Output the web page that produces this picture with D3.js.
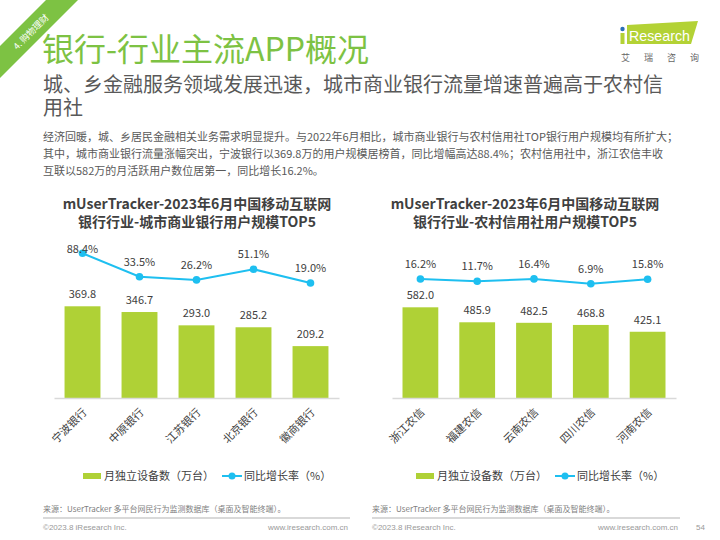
<!DOCTYPE html>
<html><head><meta charset="utf-8">
<script src="https://cdn.jsdelivr.net/npm/d3@7"></script>
<style>
html,body{margin:0;padding:0;background:#fff;}
svg{display:block;font-family:"Microsoft YaHei","Noto Sans CJK SC",sans-serif;}
</style></head>
<body>
<svg id="c" width="720" height="540"></svg>
<script>
// ---- data ----
const leftCategories = ["宁波银行","中原银行","江苏银行","北京银行","徽商银行"];
const leftUsers = [369.8, 346.7, 293.0, 285.2, 209.2];
const leftGrowth = [88.4, 33.5, 26.2, 51.1, 19.0];
const rightCategories = ["浙江农信","福建农信","云南农信","四川农信","河南农信"];
const rightUsers = [582.0, 485.9, 482.5, 468.8, 425.1];
const rightGrowth = [16.2, 11.7, 16.4, 6.9, 15.8];
const legendLabels = ["月独立设备数（万台）", "同比增长率（%）"];
const chartTitles = [
  ["mUserTracker-2023年6月中国移动互联网", "银行行业-城市商业银行用户规模TOP5"],
  ["mUserTracker-2023年6月中国移动互联网", "银行行业-农村信用社用户规模TOP5"]
];
const paragraph = [
  "经济回暖，城、乡居民金融相关业务需求明显提升。与2022年6月相比，城市商业银行与农村信用社TOP银行用户规模均有所扩大；",
  "其中，城市商业银行流量涨幅突出，宁波银行以369.8万的用户规模居榜首，同比增幅高达88.4%；农村信用社中，浙江农信丰收",
  "互联以582万的月活跃用户数位居第一，同比增长16.2%。"
];

const GREEN = "#7dc243", BAR = "#afd136", LINE = "#1ebff0", TXT = "#404040";
const svg = d3.select("#c");

// ---- header ----
svg.append("polygon").attr("points","46,0 78,0 0,78 0,46").attr("fill",GREEN);
svg.append("text").attr("transform","translate(31,32) rotate(-45)")
  .attr("text-anchor","middle").attr("dy","0.35em").attr("font-size",9).attr("fill","#fff").text("4. 购物理财");
svg.append("text").attr("x",42).attr("y",61).attr("font-size",32).attr("fill",GREEN).text("银行-行业主流APP概况");
svg.append("text").attr("x",43).attr("y",92).attr("font-size",20).attr("fill","#595959")
  .text("城、乡金融服务领域发展迅速，城市商业银行流量增速普遍高于农村信");
svg.append("text").attr("x",43).attr("y",115).attr("font-size",20).attr("fill","#595959").text("用社");
paragraph.forEach((t,i)=>{
  svg.append("text").attr("x",43).attr("y",141+i*17).attr("font-size",11).attr("fill","#595959").text(t);
});

// logo
svg.append("polygon").attr("points","627,25 698,21 691,44 627,44").attr("fill","#b3d235");
svg.append("rect").attr("x",620.5).attr("y",33).attr("width",4).attr("height",11).attr("fill","#b3d235");
svg.append("circle").attr("cx",622.5).attr("cy",29).attr("r",2.2).attr("fill","#2a6fb6");
svg.append("text").attr("x",629).attr("y",41).attr("font-size",15).attr("font-family","Arial, Liberation Sans, sans-serif")
  .attr("textLength",61).attr("lengthAdjust","spacingAndGlyphs")
  .attr("fill","#fff").text("Research");
svg.append("text").attr("x",621).attr("y",61).attr("font-size",9).attr("fill","#666")
  .attr("letter-spacing","14px").text("艾瑞咨询");

// ---- charts ----
function drawChart(cfg){
  const g = svg.append("g");
  const x = d3.scaleBand().domain(cfg.cats).range([cfg.x0,cfg.x1]).paddingInner(0.37).paddingOuter(0.185);
  const y = d3.scaleLinear().domain([0,cfg.yMax]).range([398, 398 - cfg.yPx]);
  const yp = d3.scaleLinear().domain([0,100]).range([cfg.p0, cfg.p0 - cfg.pPx]);
  const cx = d => x(d) + x.bandwidth()/2;

  // titles
  cfg.title.forEach((t,i)=>{
    g.append("text").attr("x",cfg.tx).attr("y",209+i*18).attr("text-anchor","middle")
      .attr("font-size",14).attr("font-weight","bold").attr("fill",TXT).text(t);
  });

  // bars
  g.selectAll("rect.bar").data(cfg.cats).join("rect").attr("class","bar")
    .attr("x",d=>x(d)).attr("width",x.bandwidth())
    .attr("y",(d,i)=>y(cfg.users[i])).attr("height",(d,i)=>398 - y(cfg.users[i]))
    .attr("fill",BAR);
  g.selectAll("text.bl").data(cfg.cats).join("text").attr("class","bl")
    .attr("x",cx).attr("y",(d,i)=>y(cfg.users[i]) - 8).attr("text-anchor","middle")
    .attr("font-size",11).attr("fill",TXT).text((d,i)=>cfg.users[i].toFixed(1));

  // axis
  const ax = g.append("g").attr("transform","translate(0,398)")
    .call(d3.axisBottom(x).tickSize(0).tickPadding(0).tickFormat(""));
  ax.select(".domain").attr("stroke","#d9d9d9").attr("stroke-width",1.5);
  g.selectAll("text.xl").data(cfg.cats).join("text").attr("class","xl")
    .attr("transform",d=>`translate(${cx(d)+5},413) rotate(-45)`)
    .attr("text-anchor","end").attr("font-size",11).attr("fill",TXT).text(d=>d);

  // line
  const line = d3.line().x((d,i)=>cx(cfg.cats[i])).y(d=>yp(d));
  g.append("path").datum(cfg.growth).attr("d",line).attr("fill","none")
    .attr("stroke",LINE).attr("stroke-width",2);
  g.selectAll("circle.pt").data(cfg.growth).join("circle").attr("class","pt")
    .attr("cx",(d,i)=>cx(cfg.cats[i])).attr("cy",d=>yp(d)).attr("r",3.8).attr("fill",LINE);
  g.selectAll("text.pl").data(cfg.growth).join("text").attr("class","pl")
    .attr("x",(d,i)=>cx(cfg.cats[i])).attr("y",d=>Math.max(yp(d) - 11, 253))
    .attr("text-anchor","middle").attr("font-size",11).attr("fill",TXT).text(d=>d.toFixed(1)+"%");

  // legend
  const lx = cfg.lx;
  g.append("rect").attr("x",lx).attr("y",473).attr("width",18).attr("height",6).attr("fill",BAR);
  g.append("text").attr("x",lx+21).attr("y",480).attr("font-size",11).attr("fill",TXT).text(legendLabels[0]);
  g.append("line").attr("x1",lx+139).attr("x2",lx+159).attr("y1",476).attr("y2",476)
    .attr("stroke",LINE).attr("stroke-width",2);
  g.append("circle").attr("cx",lx+149).attr("cy",476).attr("r",3.5).attr("fill",LINE);
  g.append("text").attr("x",lx+161).attr("y",480).attr("font-size",11).attr("fill",TXT).text(legendLabels[1]);

  // footer
  g.append("text").attr("x",cfg.fx0).attr("y",512).attr("font-size",8).attr("fill","#808080")
    .text("来源：UserTracker 多平台网民行为监测数据库（桌面及智能终端）。");
  g.append("line").attr("x1",cfg.fx0).attr("x2",cfg.fx1).attr("y1",518).attr("y2",518)
    .attr("stroke","#d9d9d9").attr("stroke-width",2);
  g.append("text").attr("x",cfg.fx0).attr("y",530).attr("font-size",8).attr("fill","#999")
    .attr("font-family","Arial, Liberation Sans, sans-serif").text("©2023.8 iResearch Inc.");
  g.append("text").attr("x",cfg.fx1-2).attr("y",530).attr("font-size",8).attr("fill","#999")
    .attr("text-anchor","end").attr("font-family","Arial, Liberation Sans, sans-serif").text("www.iresearch.com.cn");
}

drawChart({cats:leftCategories, users:leftUsers, growth:leftGrowth, title:chartTitles[0],
  x0:54, x1:339, yMax:400, yPx:99.2, p0:291.1, pPx:42.8, tx:197, lx:83, fx0:43, fx1:350});
drawChart({cats:rightCategories, users:rightUsers, growth:rightGrowth, title:chartTitles[1],
  x0:392, x1:676, yMax:600, yPx:93.5, p0:287.2, pPx:50.5, tx:525, lx:416, fx0:372, fx1:680});

svg.append("text").attr("x",705).attr("y",530).attr("text-anchor","end").attr("font-size",8)
  .attr("fill","#999").attr("font-family","Arial, Liberation Sans, sans-serif").text("54");
</script>
</body></html>
